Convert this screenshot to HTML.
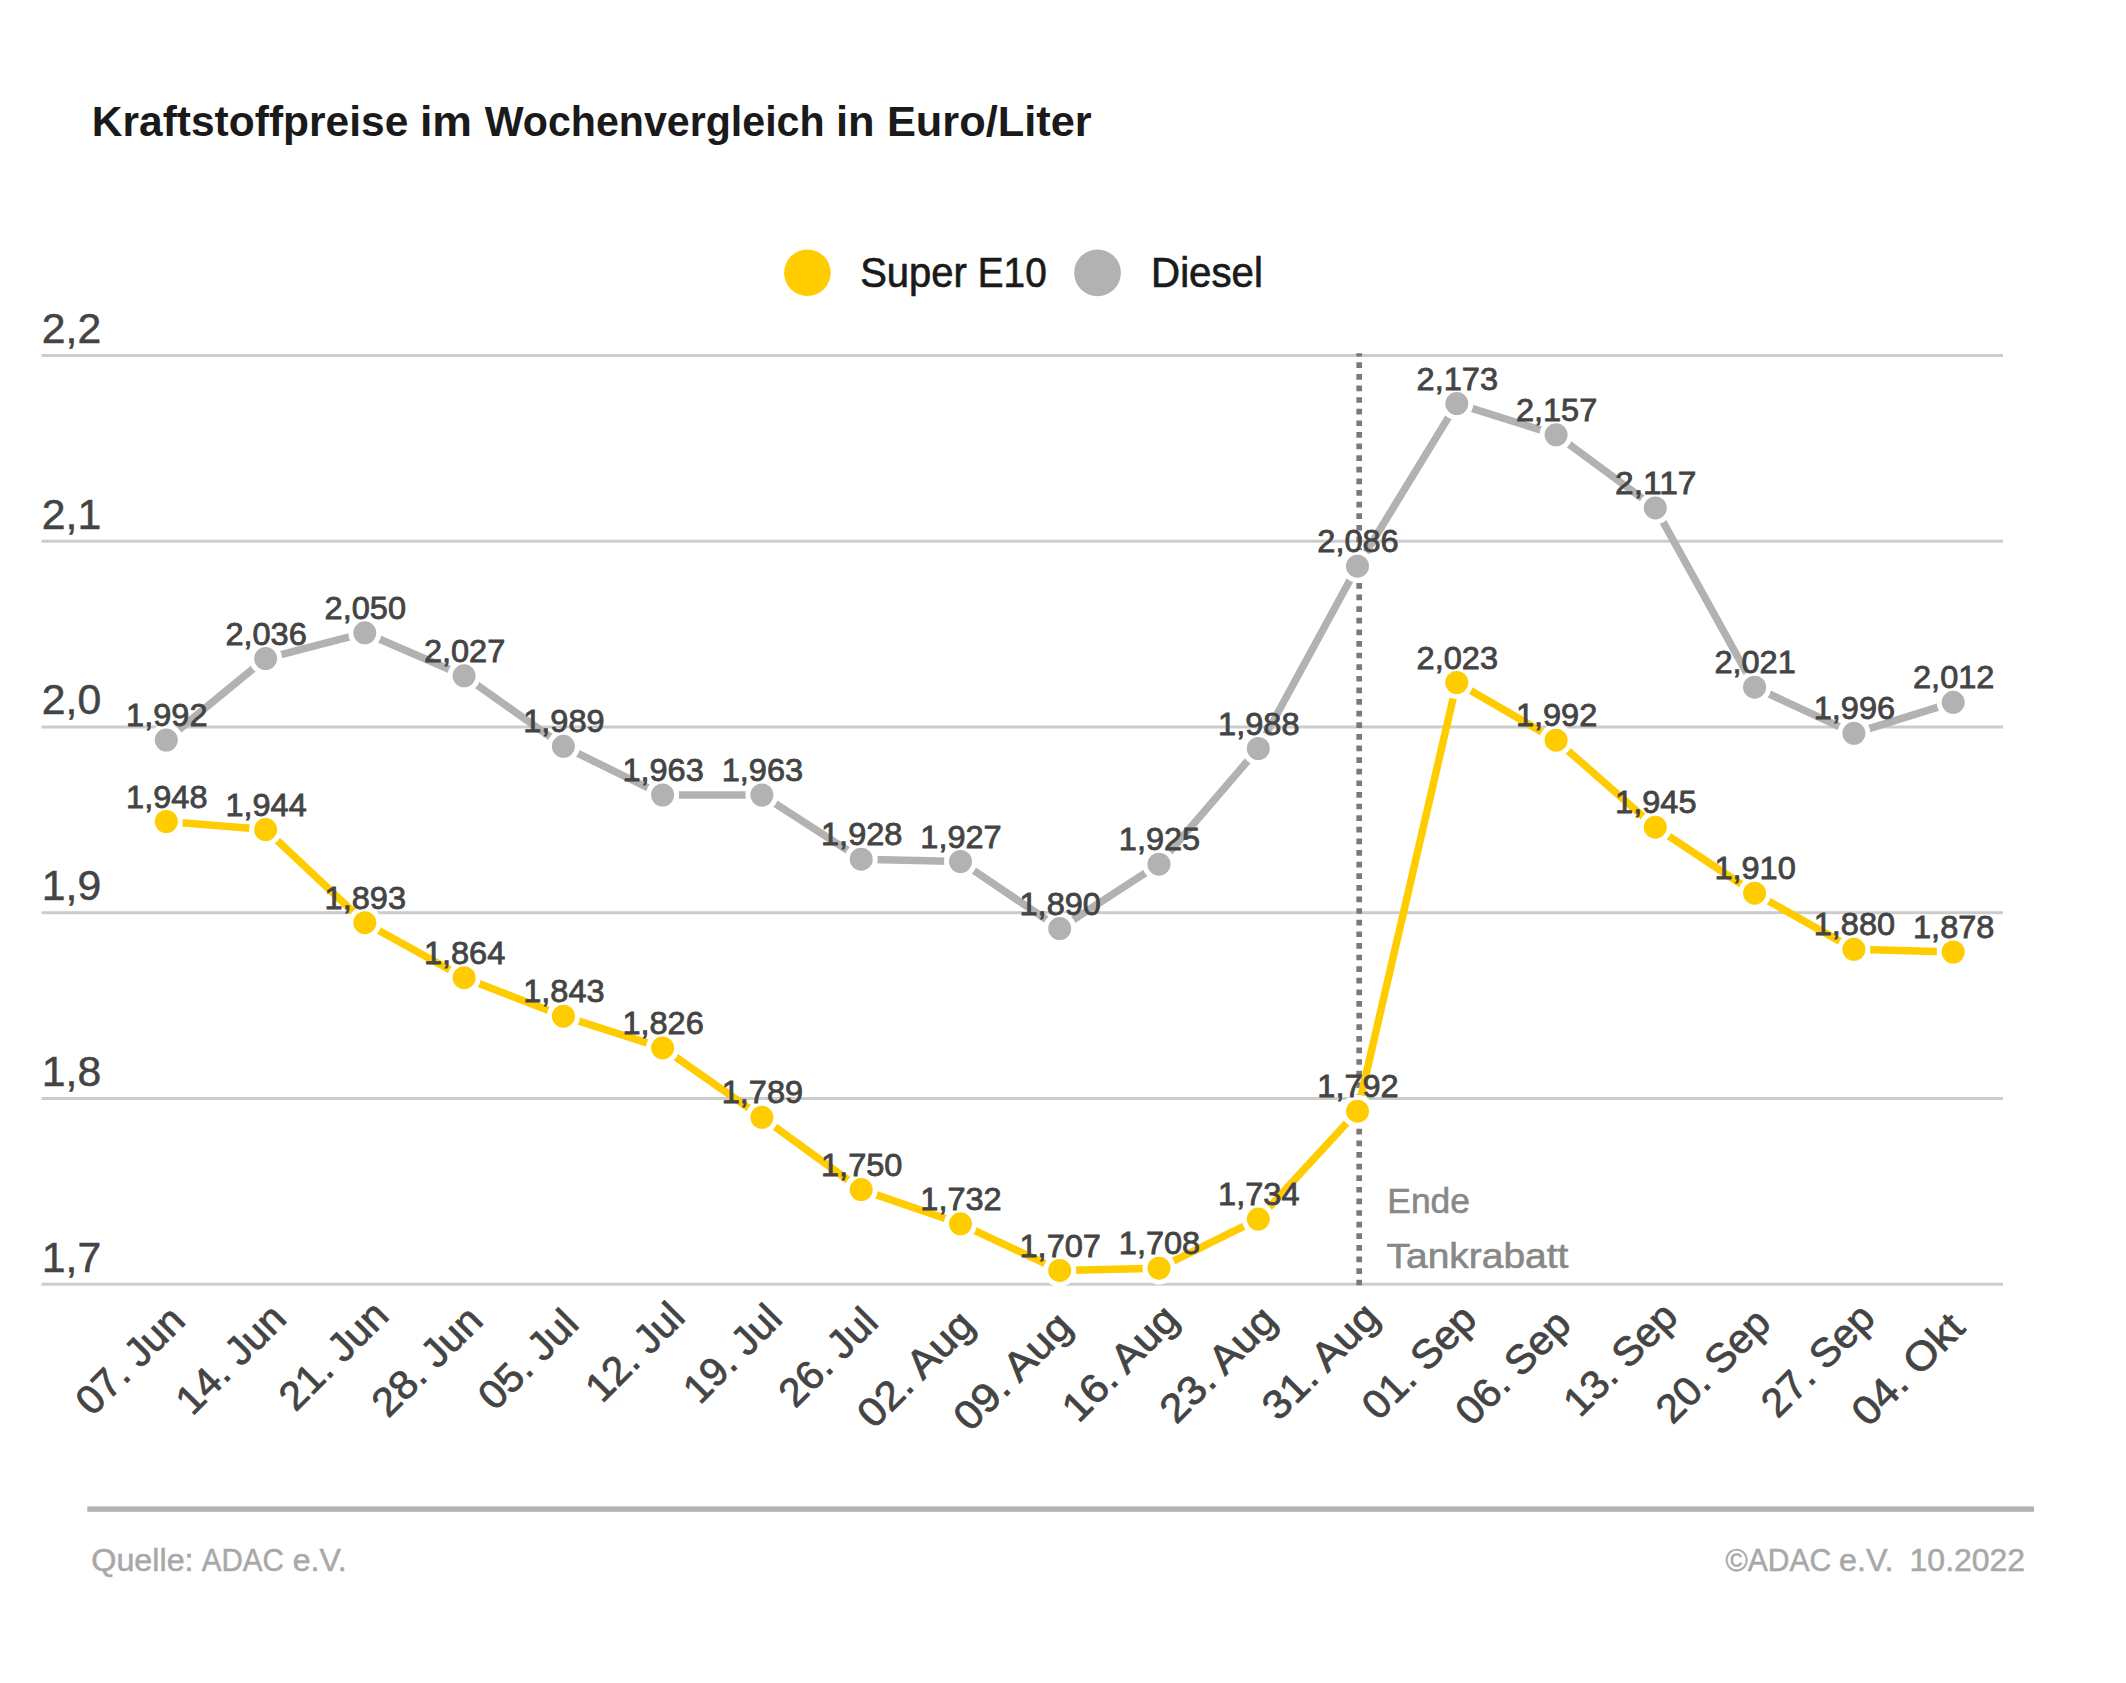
<!DOCTYPE html>
<html lang="de"><head><meta charset="utf-8"><title>Kraftstoffpreise im Wochenvergleich</title>
<style>html,body{margin:0;padding:0;background:#fff}body{width:2126px;height:1683px;overflow:hidden}svg{display:block}text{font-family:"Liberation Sans", sans-serif}</style></head><body>
<svg width="2126" height="1683" viewBox="0 0 2126 1683">
<rect width="2126" height="1683" fill="#fff"/>
<text y="135.8" font-size="42" fill="#1a1a1a" font-weight="bold"><tspan x="91.8" textLength="316.5" lengthAdjust="spacingAndGlyphs">Kraftstoffpreise</tspan> <tspan x="419.9" textLength="52.1" lengthAdjust="spacingAndGlyphs">im</tspan> <tspan x="484.7" textLength="339.9" lengthAdjust="spacingAndGlyphs">Wochenvergleich</tspan> <tspan x="836.0" textLength="38.6" lengthAdjust="spacingAndGlyphs">in</tspan> <tspan x="886.9" textLength="204.8" lengthAdjust="spacingAndGlyphs">Euro/Liter</tspan></text>
<circle cx="807.4" cy="272.8" r="23.3" fill="#ffcc00"/>
<text y="287.1" font-size="42" fill="#1a1a1a" stroke="#1a1a1a" stroke-width="0.7"><tspan x="860.2" textLength="106.6" lengthAdjust="spacingAndGlyphs">Super</tspan> <tspan x="977.8" textLength="68.9" lengthAdjust="spacingAndGlyphs">E10</tspan></text>
<circle cx="1097.5" cy="272.8" r="23.4" fill="#b2b2b2"/>
<text y="287.1" font-size="42" fill="#1a1a1a" stroke="#1a1a1a" stroke-width="0.7"><tspan x="1151.1" textLength="111.8" lengthAdjust="spacingAndGlyphs">Diesel</tspan></text>
<rect x="41.5" y="354.0" width="1961.5" height="3" fill="#cccccc"/>
<rect x="41.5" y="539.7" width="1961.5" height="3" fill="#cccccc"/>
<rect x="41.5" y="725.5" width="1961.5" height="3" fill="#cccccc"/>
<rect x="41.5" y="911.2" width="1961.5" height="3" fill="#cccccc"/>
<rect x="41.5" y="1097.0" width="1961.5" height="3" fill="#cccccc"/>
<rect x="41.5" y="1282.7" width="1961.5" height="3" fill="#cccccc"/>
<text x="41.8" y="342.8" font-size="42" fill="#444444" stroke="#444444" stroke-width="0.5" textLength="59.4" lengthAdjust="spacingAndGlyphs">2,2</text>
<text x="41.8" y="528.5" font-size="42" fill="#444444" stroke="#444444" stroke-width="0.5" textLength="59.4" lengthAdjust="spacingAndGlyphs">2,1</text>
<text x="41.8" y="714.3" font-size="42" fill="#444444" stroke="#444444" stroke-width="0.5" textLength="59.4" lengthAdjust="spacingAndGlyphs">2,0</text>
<text x="41.8" y="900.0" font-size="42" fill="#444444" stroke="#444444" stroke-width="0.5" textLength="59.4" lengthAdjust="spacingAndGlyphs">1,9</text>
<text x="41.8" y="1085.8" font-size="42" fill="#444444" stroke="#444444" stroke-width="0.5" textLength="59.4" lengthAdjust="spacingAndGlyphs">1,8</text>
<text x="41.8" y="1271.5" font-size="42" fill="#444444" stroke="#444444" stroke-width="0.5" textLength="59.4" lengthAdjust="spacingAndGlyphs">1,7</text>
<line x1="1359.2" y1="353.2" x2="1359.2" y2="1285.2" stroke="#7a7a7a" stroke-width="5.7" stroke-dasharray="5.7 5.914" stroke-dashoffset="2.5"/>
<text y="1213.1" font-size="35.4" fill="#888888" stroke="#888888" stroke-width="0.6"><tspan x="1387.3" textLength="82.6" lengthAdjust="spacingAndGlyphs">Ende</tspan></text>
<text y="1267.9" font-size="35.4" fill="#888888" stroke="#888888" stroke-width="0.6"><tspan x="1386.5" textLength="181.9" lengthAdjust="spacingAndGlyphs">Tankrabatt</tspan></text>
<polyline points="166.3,740.0 265.6,658.6 364.8,632.8 464.1,675.8 563.4,746.3 662.6,795.0 761.9,795.0 861.2,859.2 960.5,861.5 1059.7,928.6 1159.0,864.2 1258.3,748.5 1357.5,566.2 1456.8,403.6 1556.1,434.8 1655.3,507.9 1754.6,687.2 1853.9,733.3 1953.2,702.3" fill="none" stroke="#b2b2b2" stroke-width="7.5" stroke-linejoin="round"/>
<circle cx="166.3" cy="740.0" r="14" fill="#b2b2b2" stroke="#fff" stroke-width="5"/>
<circle cx="265.6" cy="658.6" r="14" fill="#b2b2b2" stroke="#fff" stroke-width="5"/>
<circle cx="364.8" cy="632.8" r="14" fill="#b2b2b2" stroke="#fff" stroke-width="5"/>
<circle cx="464.1" cy="675.8" r="14" fill="#b2b2b2" stroke="#fff" stroke-width="5"/>
<circle cx="563.4" cy="746.3" r="14" fill="#b2b2b2" stroke="#fff" stroke-width="5"/>
<circle cx="662.6" cy="795.0" r="14" fill="#b2b2b2" stroke="#fff" stroke-width="5"/>
<circle cx="761.9" cy="795.0" r="14" fill="#b2b2b2" stroke="#fff" stroke-width="5"/>
<circle cx="861.2" cy="859.2" r="14" fill="#b2b2b2" stroke="#fff" stroke-width="5"/>
<circle cx="960.5" cy="861.5" r="14" fill="#b2b2b2" stroke="#fff" stroke-width="5"/>
<circle cx="1059.7" cy="928.6" r="14" fill="#b2b2b2" stroke="#fff" stroke-width="5"/>
<circle cx="1159.0" cy="864.2" r="14" fill="#b2b2b2" stroke="#fff" stroke-width="5"/>
<circle cx="1258.3" cy="748.5" r="14" fill="#b2b2b2" stroke="#fff" stroke-width="5"/>
<circle cx="1357.5" cy="566.2" r="14" fill="#b2b2b2" stroke="#fff" stroke-width="5"/>
<circle cx="1456.8" cy="403.6" r="14" fill="#b2b2b2" stroke="#fff" stroke-width="5"/>
<circle cx="1556.1" cy="434.8" r="14" fill="#b2b2b2" stroke="#fff" stroke-width="5"/>
<circle cx="1655.3" cy="507.9" r="14" fill="#b2b2b2" stroke="#fff" stroke-width="5"/>
<circle cx="1754.6" cy="687.2" r="14" fill="#b2b2b2" stroke="#fff" stroke-width="5"/>
<circle cx="1853.9" cy="733.3" r="14" fill="#b2b2b2" stroke="#fff" stroke-width="5"/>
<circle cx="1953.2" cy="702.3" r="14" fill="#b2b2b2" stroke="#fff" stroke-width="5"/>
<polyline points="166.3,821.5 265.6,829.6 364.8,922.7 464.1,977.7 563.4,1016.2 662.6,1047.9 761.9,1117.3 861.2,1189.6 960.5,1223.8 1059.7,1270.4 1159.0,1268.2 1258.3,1219.1 1357.5,1111.2 1456.8,682.5 1556.1,740.2 1655.3,827.2 1754.6,893.2 1853.9,949.3 1953.2,952.0" fill="none" stroke="#ffcc00" stroke-width="7.5" stroke-linejoin="round"/>
<circle cx="166.3" cy="821.5" r="14" fill="#ffcc00" stroke="#fff" stroke-width="5"/>
<circle cx="265.6" cy="829.6" r="14" fill="#ffcc00" stroke="#fff" stroke-width="5"/>
<circle cx="364.8" cy="922.7" r="14" fill="#ffcc00" stroke="#fff" stroke-width="5"/>
<circle cx="464.1" cy="977.7" r="14" fill="#ffcc00" stroke="#fff" stroke-width="5"/>
<circle cx="563.4" cy="1016.2" r="14" fill="#ffcc00" stroke="#fff" stroke-width="5"/>
<circle cx="662.6" cy="1047.9" r="14" fill="#ffcc00" stroke="#fff" stroke-width="5"/>
<circle cx="761.9" cy="1117.3" r="14" fill="#ffcc00" stroke="#fff" stroke-width="5"/>
<circle cx="861.2" cy="1189.6" r="14" fill="#ffcc00" stroke="#fff" stroke-width="5"/>
<circle cx="960.5" cy="1223.8" r="14" fill="#ffcc00" stroke="#fff" stroke-width="5"/>
<circle cx="1059.7" cy="1270.4" r="14" fill="#ffcc00" stroke="#fff" stroke-width="5"/>
<circle cx="1159.0" cy="1268.2" r="14" fill="#ffcc00" stroke="#fff" stroke-width="5"/>
<circle cx="1258.3" cy="1219.1" r="14" fill="#ffcc00" stroke="#fff" stroke-width="5"/>
<circle cx="1357.5" cy="1111.2" r="14" fill="#ffcc00" stroke="#fff" stroke-width="5"/>
<circle cx="1456.8" cy="682.5" r="14" fill="#ffcc00" stroke="#fff" stroke-width="5"/>
<circle cx="1556.1" cy="740.2" r="14" fill="#ffcc00" stroke="#fff" stroke-width="5"/>
<circle cx="1655.3" cy="827.2" r="14" fill="#ffcc00" stroke="#fff" stroke-width="5"/>
<circle cx="1754.6" cy="893.2" r="14" fill="#ffcc00" stroke="#fff" stroke-width="5"/>
<circle cx="1853.9" cy="949.3" r="14" fill="#ffcc00" stroke="#fff" stroke-width="5"/>
<circle cx="1953.2" cy="952.0" r="14" fill="#ffcc00" stroke="#fff" stroke-width="5"/>
<text x="166.8" y="726.1" font-size="31" fill="#444444" stroke="#444444" stroke-width="0.8" text-anchor="middle" textLength="81.4" lengthAdjust="spacingAndGlyphs">1,992</text>
<text x="266.1" y="644.7" font-size="31" fill="#444444" stroke="#444444" stroke-width="0.8" text-anchor="middle" textLength="81.4" lengthAdjust="spacingAndGlyphs">2,036</text>
<text x="365.3" y="618.9" font-size="31" fill="#444444" stroke="#444444" stroke-width="0.8" text-anchor="middle" textLength="81.4" lengthAdjust="spacingAndGlyphs">2,050</text>
<text x="464.6" y="661.9" font-size="31" fill="#444444" stroke="#444444" stroke-width="0.8" text-anchor="middle" textLength="81.4" lengthAdjust="spacingAndGlyphs">2,027</text>
<text x="563.9" y="732.4" font-size="31" fill="#444444" stroke="#444444" stroke-width="0.8" text-anchor="middle" textLength="81.4" lengthAdjust="spacingAndGlyphs">1,989</text>
<text x="663.1" y="781.1" font-size="31" fill="#444444" stroke="#444444" stroke-width="0.8" text-anchor="middle" textLength="81.4" lengthAdjust="spacingAndGlyphs">1,963</text>
<text x="762.4" y="781.1" font-size="31" fill="#444444" stroke="#444444" stroke-width="0.8" text-anchor="middle" textLength="81.4" lengthAdjust="spacingAndGlyphs">1,963</text>
<text x="861.7" y="845.3" font-size="31" fill="#444444" stroke="#444444" stroke-width="0.8" text-anchor="middle" textLength="81.4" lengthAdjust="spacingAndGlyphs">1,928</text>
<text x="961.0" y="847.6" font-size="31" fill="#444444" stroke="#444444" stroke-width="0.8" text-anchor="middle" textLength="81.4" lengthAdjust="spacingAndGlyphs">1,927</text>
<text x="1060.2" y="914.7" font-size="31" fill="#444444" stroke="#444444" stroke-width="0.8" text-anchor="middle" textLength="81.4" lengthAdjust="spacingAndGlyphs">1,890</text>
<text x="1159.5" y="850.3" font-size="31" fill="#444444" stroke="#444444" stroke-width="0.8" text-anchor="middle" textLength="81.4" lengthAdjust="spacingAndGlyphs">1,925</text>
<text x="1258.8" y="734.6" font-size="31" fill="#444444" stroke="#444444" stroke-width="0.8" text-anchor="middle" textLength="81.4" lengthAdjust="spacingAndGlyphs">1,988</text>
<text x="1358.0" y="552.3" font-size="31" fill="#444444" stroke="#444444" stroke-width="0.8" text-anchor="middle" textLength="81.4" lengthAdjust="spacingAndGlyphs">2,086</text>
<text x="1457.3" y="389.7" font-size="31" fill="#444444" stroke="#444444" stroke-width="0.8" text-anchor="middle" textLength="81.4" lengthAdjust="spacingAndGlyphs">2,173</text>
<text x="1556.6" y="420.9" font-size="31" fill="#444444" stroke="#444444" stroke-width="0.8" text-anchor="middle" textLength="81.4" lengthAdjust="spacingAndGlyphs">2,157</text>
<text x="1655.8" y="494.0" font-size="31" fill="#444444" stroke="#444444" stroke-width="0.8" text-anchor="middle" textLength="81.4" lengthAdjust="spacingAndGlyphs">2,117</text>
<text x="1755.1" y="673.3" font-size="31" fill="#444444" stroke="#444444" stroke-width="0.8" text-anchor="middle" textLength="81.4" lengthAdjust="spacingAndGlyphs">2,021</text>
<text x="1854.4" y="719.4" font-size="31" fill="#444444" stroke="#444444" stroke-width="0.8" text-anchor="middle" textLength="81.4" lengthAdjust="spacingAndGlyphs">1,996</text>
<text x="1953.7" y="688.4" font-size="31" fill="#444444" stroke="#444444" stroke-width="0.8" text-anchor="middle" textLength="81.4" lengthAdjust="spacingAndGlyphs">2,012</text>
<text x="166.8" y="807.6" font-size="31" fill="#444444" stroke="#444444" stroke-width="0.8" text-anchor="middle" textLength="81.4" lengthAdjust="spacingAndGlyphs">1,948</text>
<text x="266.1" y="815.7" font-size="31" fill="#444444" stroke="#444444" stroke-width="0.8" text-anchor="middle" textLength="81.4" lengthAdjust="spacingAndGlyphs">1,944</text>
<text x="365.3" y="908.8" font-size="31" fill="#444444" stroke="#444444" stroke-width="0.8" text-anchor="middle" textLength="81.4" lengthAdjust="spacingAndGlyphs">1,893</text>
<text x="464.6" y="963.8" font-size="31" fill="#444444" stroke="#444444" stroke-width="0.8" text-anchor="middle" textLength="81.4" lengthAdjust="spacingAndGlyphs">1,864</text>
<text x="563.9" y="1002.3" font-size="31" fill="#444444" stroke="#444444" stroke-width="0.8" text-anchor="middle" textLength="81.4" lengthAdjust="spacingAndGlyphs">1,843</text>
<text x="663.1" y="1034.0" font-size="31" fill="#444444" stroke="#444444" stroke-width="0.8" text-anchor="middle" textLength="81.4" lengthAdjust="spacingAndGlyphs">1,826</text>
<text x="762.4" y="1103.4" font-size="31" fill="#444444" stroke="#444444" stroke-width="0.8" text-anchor="middle" textLength="81.4" lengthAdjust="spacingAndGlyphs">1,789</text>
<text x="861.7" y="1175.7" font-size="31" fill="#444444" stroke="#444444" stroke-width="0.8" text-anchor="middle" textLength="81.4" lengthAdjust="spacingAndGlyphs">1,750</text>
<text x="961.0" y="1209.9" font-size="31" fill="#444444" stroke="#444444" stroke-width="0.8" text-anchor="middle" textLength="81.4" lengthAdjust="spacingAndGlyphs">1,732</text>
<text x="1060.2" y="1256.5" font-size="31" fill="#444444" stroke="#444444" stroke-width="0.8" text-anchor="middle" textLength="81.4" lengthAdjust="spacingAndGlyphs">1,707</text>
<text x="1159.5" y="1254.3" font-size="31" fill="#444444" stroke="#444444" stroke-width="0.8" text-anchor="middle" textLength="81.4" lengthAdjust="spacingAndGlyphs">1,708</text>
<text x="1258.8" y="1205.2" font-size="31" fill="#444444" stroke="#444444" stroke-width="0.8" text-anchor="middle" textLength="81.4" lengthAdjust="spacingAndGlyphs">1,734</text>
<text x="1358.0" y="1097.3" font-size="31" fill="#444444" stroke="#444444" stroke-width="0.8" text-anchor="middle" textLength="81.4" lengthAdjust="spacingAndGlyphs">1,792</text>
<text x="1457.3" y="668.6" font-size="31" fill="#444444" stroke="#444444" stroke-width="0.8" text-anchor="middle" textLength="81.4" lengthAdjust="spacingAndGlyphs">2,023</text>
<text x="1556.6" y="726.3" font-size="31" fill="#444444" stroke="#444444" stroke-width="0.8" text-anchor="middle" textLength="81.4" lengthAdjust="spacingAndGlyphs">1,992</text>
<text x="1655.8" y="813.3" font-size="31" fill="#444444" stroke="#444444" stroke-width="0.8" text-anchor="middle" textLength="81.4" lengthAdjust="spacingAndGlyphs">1,945</text>
<text x="1755.1" y="879.3" font-size="31" fill="#444444" stroke="#444444" stroke-width="0.8" text-anchor="middle" textLength="81.4" lengthAdjust="spacingAndGlyphs">1,910</text>
<text x="1854.4" y="935.4" font-size="31" fill="#444444" stroke="#444444" stroke-width="0.8" text-anchor="middle" textLength="81.4" lengthAdjust="spacingAndGlyphs">1,880</text>
<text x="1953.7" y="938.1" font-size="31" fill="#444444" stroke="#444444" stroke-width="0.8" text-anchor="middle" textLength="81.4" lengthAdjust="spacingAndGlyphs">1,878</text>
<text transform="translate(187.0,1322.6) rotate(-45)" font-size="40.2" fill="#444444" stroke="#444444" stroke-width="0.8" text-anchor="end" textLength="134.0" lengthAdjust="spacingAndGlyphs">07. Jun</text>
<text transform="translate(288.3,1320.6) rotate(-45)" font-size="40.2" fill="#444444" stroke="#444444" stroke-width="0.8" text-anchor="end" textLength="136.0" lengthAdjust="spacingAndGlyphs">14. Jun</text>
<text transform="translate(390.6,1317.5) rotate(-45)" font-size="40.2" fill="#444444" stroke="#444444" stroke-width="0.8" text-anchor="end" textLength="134.6" lengthAdjust="spacingAndGlyphs">21. Jun</text>
<text transform="translate(484.8,1322.6) rotate(-45)" font-size="40.2" fill="#444444" stroke="#444444" stroke-width="0.8" text-anchor="end" textLength="136.5" lengthAdjust="spacingAndGlyphs">28. Jun</text>
<text transform="translate(580.7,1326.0) rotate(-45)" font-size="40.2" fill="#444444" stroke="#444444" stroke-width="0.8" text-anchor="end" textLength="121.6" lengthAdjust="spacingAndGlyphs">05. Jul</text>
<text transform="translate(686.8,1319.2) rotate(-45)" font-size="40.2" fill="#444444" stroke="#444444" stroke-width="0.8" text-anchor="end" textLength="119.8" lengthAdjust="spacingAndGlyphs">12. Jul</text>
<text transform="translate(784.2,1321.0) rotate(-45)" font-size="40.2" fill="#444444" stroke="#444444" stroke-width="0.8" text-anchor="end" textLength="119.6" lengthAdjust="spacingAndGlyphs">19. Jul</text>
<text transform="translate(880.2,1324.3) rotate(-45)" font-size="40.2" fill="#444444" stroke="#444444" stroke-width="0.8" text-anchor="end" textLength="120.1" lengthAdjust="spacingAndGlyphs">26. Jul</text>
<text transform="translate(976.7,1327.1) rotate(-45)" font-size="40.2" fill="#444444" stroke="#444444" stroke-width="0.8" text-anchor="end" textLength="145.6" lengthAdjust="spacingAndGlyphs">02. Aug</text>
<text transform="translate(1074.3,1328.7) rotate(-45)" font-size="40.2" fill="#444444" stroke="#444444" stroke-width="0.8" text-anchor="end" textLength="147.6" lengthAdjust="spacingAndGlyphs">09. Aug</text>
<text transform="translate(1180.8,1321.5) rotate(-45)" font-size="40.2" fill="#444444" stroke="#444444" stroke-width="0.8" text-anchor="end" textLength="144.8" lengthAdjust="spacingAndGlyphs">16. Aug</text>
<text transform="translate(1278.8,1322.8) rotate(-45)" font-size="40.2" fill="#444444" stroke="#444444" stroke-width="0.8" text-anchor="end" textLength="145.0" lengthAdjust="spacingAndGlyphs">23. Aug</text>
<text transform="translate(1381.3,1319.5) rotate(-45)" font-size="40.2" fill="#444444" stroke="#444444" stroke-width="0.8" text-anchor="end" textLength="145.3" lengthAdjust="spacingAndGlyphs">31. Aug</text>
<text transform="translate(1478.8,1321.3) rotate(-45)" font-size="40.2" fill="#444444" stroke="#444444" stroke-width="0.8" text-anchor="end" textLength="141.9" lengthAdjust="spacingAndGlyphs">01. Sep</text>
<text transform="translate(1573.0,1326.4) rotate(-45)" font-size="40.2" fill="#444444" stroke="#444444" stroke-width="0.8" text-anchor="end" textLength="142.9" lengthAdjust="spacingAndGlyphs">06. Sep</text>
<text transform="translate(1679.8,1318.8) rotate(-45)" font-size="40.2" fill="#444444" stroke="#444444" stroke-width="0.8" text-anchor="end" textLength="141.1" lengthAdjust="spacingAndGlyphs">13. Sep</text>
<text transform="translate(1772.7,1325.2) rotate(-45)" font-size="40.2" fill="#444444" stroke="#444444" stroke-width="0.8" text-anchor="end" textLength="141.7" lengthAdjust="spacingAndGlyphs">20. Sep</text>
<text transform="translate(1877.1,1320.1) rotate(-45)" font-size="40.2" fill="#444444" stroke="#444444" stroke-width="0.8" text-anchor="end" textLength="140.5" lengthAdjust="spacingAndGlyphs">27. Sep</text>
<text transform="translate(1966.8,1329.7) rotate(-45)" font-size="40.2" fill="#444444" stroke="#444444" stroke-width="0.8" text-anchor="end" textLength="139.4" lengthAdjust="spacingAndGlyphs">04. Okt</text>
<rect x="87.3" y="1506.4" width="1946.7" height="5.4" fill="#b2b2b2"/>
<text y="1570.8" font-size="31" fill="#a8a8a8" stroke="#a8a8a8" stroke-width="0.5"><tspan x="91.3" textLength="102.3" lengthAdjust="spacingAndGlyphs">Quelle:</tspan> <tspan x="201.7" textLength="82.2" lengthAdjust="spacingAndGlyphs">ADAC</tspan> <tspan x="292.7" textLength="54.1" lengthAdjust="spacingAndGlyphs">e.V.</tspan></text>
<text y="1570.8" font-size="31" fill="#a8a8a8" stroke="#a8a8a8" stroke-width="0.5"><tspan x="1725.6" textLength="105.7" lengthAdjust="spacingAndGlyphs">©ADAC</tspan> <tspan x="1839.0" textLength="54.5" lengthAdjust="spacingAndGlyphs">e.V.</tspan> <tspan x="1909.6" textLength="115.5" lengthAdjust="spacingAndGlyphs">10.2022</tspan></text>
</svg></body></html>
